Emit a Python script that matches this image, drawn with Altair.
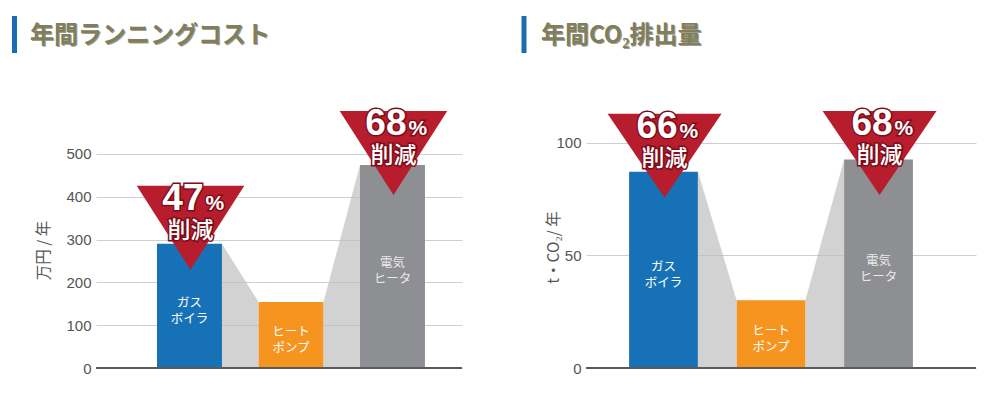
import altair as alt
import pandas as pd

# ---------------- data ----------------
categories = ["ガスボイラ", "ヒートポンプ", "電気ヒータ"]
bar_labels = [["ガス", "ボイラ"], ["ヒート", "ポンプ"], ["電気", "ヒータ"]]
cost_values = [290, 154, 474]          # 万円 / 年
co2_values = [87, 30, 92.5]            # t・CO2 / 年
cost_reduction = [47, None, 68]        # % 削減 (vs ヒートポンプ)
co2_reduction = [66, None, 68]
cost_ticks = [0, 100, 200, 300, 400, 500]
co2_ticks = [0, 50, 100]
panel_titles = ["年間ランニングコスト", "年間CO₂排出量"]
axis_titles = ["万円 / 年", "t・CO₂/ 年"]

# ---------------- style ----------------
bar_colors = ["#1771b7", "#f5951f", "#8e8f92"]
label_colors = ["#ffffff", "#ffffff", "#e9e9e9"]
gap_color = "#bcbcbe"
badge_color = "#b81d2d"
title_color = "#807e5b"
accent_blue = "#1a6db3"
H = 257
BAR_HALF = 0.32
TRI_HALF = 0.53
TRI_H_PX = 84
TRI_GAP_PX = 58


def panel(values, reductions, ticks, ymax, xdom, width, y_title, title_txt,
          deco_x, title_x, ax_title_x, ax_title_y):
    upp = ymax / H
    xscale = alt.Scale(domain=xdom, nice=False, zero=False)
    yscale = alt.Scale(domain=[0, ymax], nice=False, zero=True)
    yaxis = alt.Axis(values=ticks, title=y_title, grid=True,
                     gridColor="#cfcfcf", gridWidth=1.2,
                     domain=False, ticks=False, labelPadding=5,
                     labelFont="Liberation Sans", labelFontSize=15,
                     labelColor="#555555",
                     titleFont="Noto Sans CJK JP", titleFontSize=15.5,
                     titleFontWeight="normal", titleColor="#555555",
                     titleAngle=270, titleAlign="center",
                     titleBaseline="middle",
                     titleX=ax_title_x, titleY=ax_title_y)

    def Y(field):
        return alt.Y(field, scale=yscale, axis=yaxis, title=y_title)

    bars = pd.DataFrame({
        "i": list(range(len(values))),
        "cat": categories,
        "value": values,
        "label": ["\n".join(l) for l in bar_labels],
        "lc": label_colors,
    })
    bars["x0"] = bars["i"] - BAR_HALF
    bars["x1"] = bars["i"] + BAR_HALF
    bars["mid"] = bars["value"] / 2

    gap_rows = []
    for k in range(len(values) - 1):
        gap_rows.append({"seg": k, "x": k + BAR_HALF, "y": values[k], "base": 0})
        gap_rows.append({"seg": k, "x": k + 1 - BAR_HALF, "y": values[k + 1], "base": 0})
    gaps = pd.DataFrame(gap_rows)

    tri_rows, txt_rows = [], []
    for i, (v, r) in enumerate(zip(values, reductions)):
        if r is None:
            continue
        tt = min(v + TRI_GAP_PX * upp, ymax)
        h = TRI_H_PX * upp
        c = i + 0.01
        tri_rows += [
            {"tri": i, "x": c - TRI_HALF, "top": tt, "bot": tt},
            {"tri": i, "x": c, "top": tt, "bot": tt - h},
            {"tri": i, "x": c + TRI_HALF, "top": tt, "bot": tt},
        ]
        txt_rows.append({"x": c, "tt": tt, "num": str(r), "pct": "%", "word": "削減"})
    tris = pd.DataFrame(tri_rows)
    txts = pd.DataFrame(txt_rows)

    bar_layer = alt.Chart(bars).mark_rect().encode(
        x=alt.X("x0:Q", scale=xscale, axis=None),
        x2="x1:Q",
        y=Y("value:Q"),
        y2=alt.Y2(datum=0),
        color=alt.Color("cat:N", scale=alt.Scale(domain=categories, range=bar_colors),
                        legend=None),
    )

    gap_layer = alt.Chart(gaps).mark_area(color=gap_color, opacity=0.68).encode(
        x=alt.X("x:Q", scale=xscale, axis=None),
        y=Y("y:Q"),
        y2="base:Q",
        detail="seg:N",
    )

    label_layer = alt.Chart(bars).mark_text(
        font="Noto Sans CJK JP", fontSize=12.5, lineBreak="\n", lineHeight=16,
        baseline="middle", dy=-3,
    ).encode(
        x=alt.X("i:Q", scale=xscale, axis=None),
        y=Y("mid:Q"),
        text="label:N",
        color=alt.Color("lc:N", scale=None, legend=None),
    )

    base_layer = alt.Chart(pd.DataFrame({"zero": [0]})).mark_rule(
        color="#5a5a5a", strokeWidth=2
    ).encode(y=Y("zero:Q"))

    tri_layer = alt.Chart(tris).mark_area(color=badge_color).encode(
        x=alt.X("x:Q", scale=xscale, axis=None),
        y=Y("top:Q"),
        y2="bot:Q",
        detail="tri:N",
    )

    def badge_text(field, **kw):
        enc = dict(x=alt.X("x:Q", scale=xscale, axis=None),
                   y=Y("tt:Q"),
                   text=f"{field}:N")
        out = alt.Chart(txts).mark_text(stroke="#7e0d1a", strokeWidth=3,
                                        fill="#7e0d1a", **kw).encode(**enc)
        inner = alt.Chart(txts).mark_text(fill="#ffffff", **kw).encode(**enc)
        return out + inner

    num_layer = badge_text("num", font="Liberation Sans", fontWeight="bold",
                           fontSize=37, align="right", baseline="alphabetic",
                           dx=13, dy=24)
    pct_layer = badge_text("pct", font="Liberation Sans", fontWeight="bold",
                           fontSize=21, align="left", baseline="alphabetic",
                           dx=15, dy=24)
    word_layer = badge_text("word", font="Noto Sans CJK JP", fontWeight=500,
                            fontSize=23, align="center", baseline="middle",
                            dy=45)

    deco = pd.DataFrame({"t": [title_txt]})
    accent = alt.Chart(deco).mark_rule(color=accent_blue, strokeWidth=5).encode(
        x=alt.value(deco_x), y=alt.value(-95), y2=alt.value(-58))
    title_shadow = alt.Chart(deco).mark_text(
        align="left", baseline="middle", font="Noto Sans CJK JP",
        fontWeight="bold", fontSize=24, color="#4f4d37", opacity=0.55,
        dx=1, dy=1).encode(x=alt.value(title_x), y=alt.value(-75), text="t:N")
    title_main = alt.Chart(deco).mark_text(
        align="left", baseline="middle", font="Noto Sans CJK JP",
        fontWeight="bold", fontSize=24, color=title_color).encode(
        x=alt.value(title_x), y=alt.value(-75), text="t:N")

    return alt.layer(
        bar_layer, gap_layer, base_layer, label_layer, tri_layer,
        num_layer, pct_layer, word_layer, accent, title_shadow, title_main,
    ).properties(width=width, height=H)


left = panel(cost_values, cost_reduction, cost_ticks, 600, [-0.921, 2.685], 366,
             axis_titles[0], panel_titles[0], -81.5, -66, -53, 139)
right = panel(co2_values, co2_reduction, co2_ticks, 114, [-0.721, 2.907], 390,
              axis_titles[1], panel_titles[1], -62, -45, -33, 136)

chart = alt.hconcat(left, right, spacing=58).properties(
    padding={"left": 4, "top": 5, "right": 5, "bottom": 5},
    background="white",
).configure_view(stroke=None)

chart.save("out.html", embed_options={"renderer": "svg", "actions": False})
